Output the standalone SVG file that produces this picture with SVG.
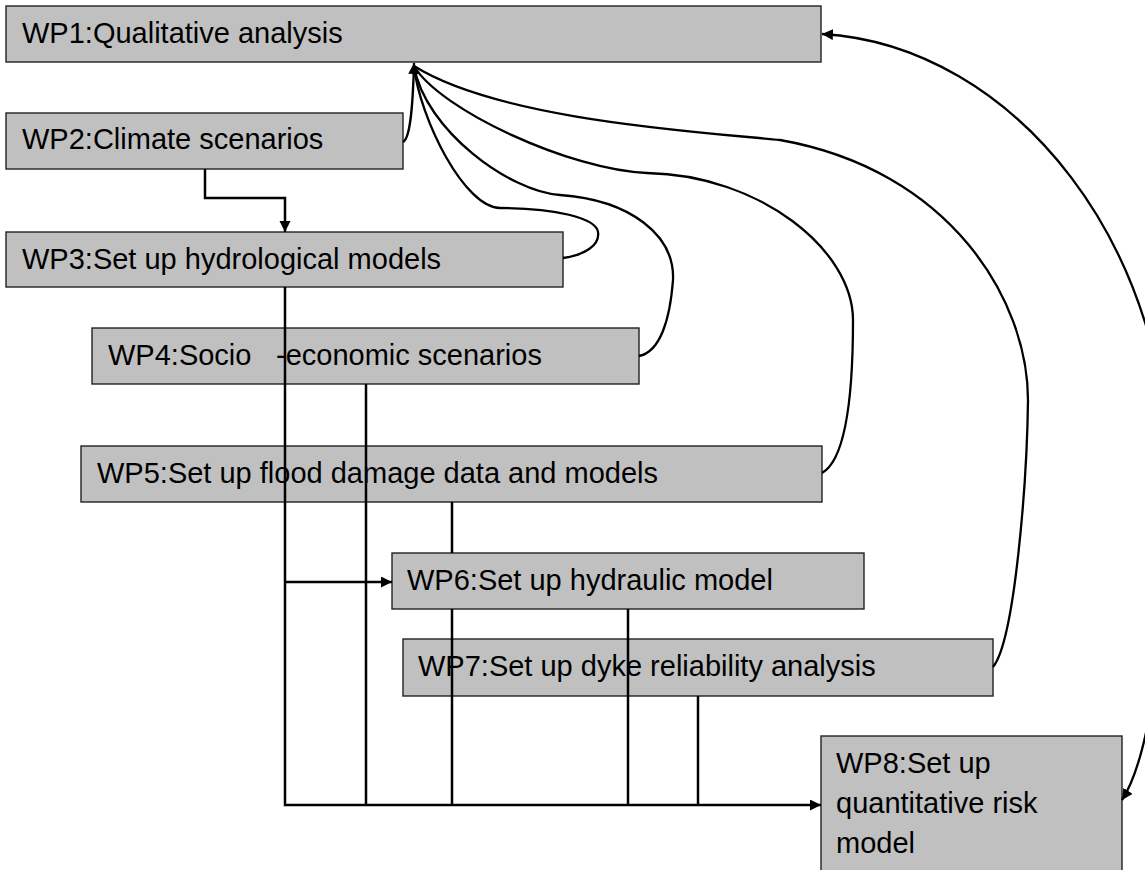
<svg xmlns="http://www.w3.org/2000/svg" width="1145" height="870" viewBox="0 0 1145 870">
<style>
.box{fill:#c0c0c0;stroke:#222;stroke-width:1.4}
.lbl{font-family:"Liberation Sans",Arial,sans-serif;font-size:29px;fill:#000}
.ln{fill:none;stroke:#000;stroke-width:2.5}
.cv{fill:none;stroke:#000;stroke-width:2.3}
</style>
<defs>
<marker id="ah" markerUnits="userSpaceOnUse" markerWidth="12" markerHeight="12" refX="11" refY="5.5" orient="auto">
<path d="M0,0 L11,5.5 L0,11 z" fill="#000"/>
</marker>
<marker id="ahs" markerUnits="userSpaceOnUse" markerWidth="12" markerHeight="12" refX="11" refY="5.5" orient="auto-start-reverse">
<path d="M0,0 L11,5.5 L0,11 z" fill="#000"/>
</marker>
</defs>
<g id="wp1"><rect class="box" x="6" y="6" width="815" height="56"/><text class="lbl" x="22" y="43">WP1:Qualitative analysis</text></g>
<g id="wp2"><rect class="box" x="6" y="113" width="397" height="56"/><text class="lbl" x="22" y="149">WP2:Climate scenarios</text></g>
<g id="wp3"><rect class="box" x="6" y="232" width="557" height="55"/><text class="lbl" x="22" y="269">WP3:Set up hydrological models</text></g>
<g id="wp4"><rect class="box" x="92" y="328" width="547" height="56"/><text class="lbl" x="108" y="365">WP4:Socio <tspan x="276">-economic scenarios</tspan></text></g>
<g id="wp5"><rect class="box" x="81" y="446" width="741" height="56"/><text class="lbl" x="97" y="483">WP5:Set up flood damage data and models</text></g>
<g id="wp6"><rect class="box" x="392" y="553" width="472" height="56"/><text class="lbl" x="407" y="590">WP6:Set up hydraulic model</text></g>
<g id="wp7"><rect class="box" x="403" y="639" width="590" height="57"/><text class="lbl" x="418" y="676">WP7:Set up dyke reliability analysis</text></g>
<g id="wp8"><rect class="box" x="821" y="736" width="301" height="150"/><text class="lbl"><tspan x="836" y="773">WP8:Set up</tspan><tspan x="836" y="813">quantitative risk</tspan><tspan x="836" y="853">model</tspan></text></g>
<g id="connectors">
<path class="ln" d="M205,169 V198 H285 V232" marker-end="url(#ah)"/>
<path class="ln" d="M285,287 V805 H821" marker-end="url(#ah)"/>
<path class="ln" d="M285,582 H392" marker-end="url(#ah)"/>
<path class="ln" d="M366,384 V805"/>
<path class="ln" d="M452,502 V553 M452,609 V805"/>
<path class="ln" d="M628,609 V805"/>
<path class="ln" d="M698,696 V805"/>
<path class="cv" d="M403,142 C411,138 413,100 414,63" marker-end="url(#ah)"/>
<path class="cv" d="M563,258 C585,255 600,245 598,232 C596,218 555,208 500,208 C465,208 420,120 414,66"/>
<path class="cv" d="M639,356 C660,352 670,320 673,280 C675,235 630,200 560,195 C510,192 425,130 414,66"/>
<path class="cv" d="M822,473 C845,460 853,400 853,320 C853,250 760,175 647,173 C570,170 440,110 414,66"/>
<path class="cv" d="M993,667 C1015,640 1027,480 1028,400 C1028,300 950,170 780,140 C700,132 500,120 414,66"/>
<path class="cv" d="M822,34 C1015,45 1178,250 1168,500 C1165,650 1148,760 1122,800" marker-start="url(#ahs)" marker-end="url(#ah)"/>
</g>
</svg>
